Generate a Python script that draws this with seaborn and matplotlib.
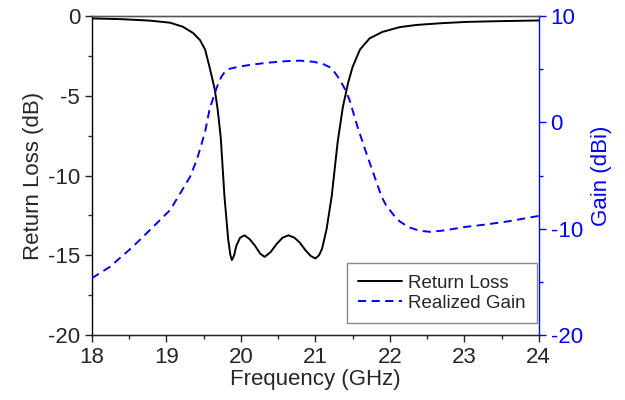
"""
plot.py
    Return loss and realized gain vs frequency (twin y axes)
Output:
  - out.png
"""

import pandas as pd
import matplotlib
matplotlib.use('Agg')
import matplotlib.pyplot as plt
from matplotlib.ticker import MultipleLocator
import seaborn as sns

# Data
rl_freq = [18.0, 18.4, 18.78, 19.05, 19.22, 19.36, 19.45, 19.52, 19.58, 19.65,
           19.69, 19.73, 19.78, 19.83, 19.86, 19.88, 19.91, 19.94, 19.99, 20.05,
           20.12, 20.19, 20.26, 20.32, 20.4, 20.48, 20.56, 20.64, 20.72, 20.79,
           20.87, 20.94, 21.0, 21.05, 21.09, 21.15, 21.22, 21.3, 21.37, 21.44,
           21.5, 21.6, 21.73, 21.9, 22.13, 22.36, 22.7, 23.03, 23.5, 24.0]
rl_db = [-0.15, -0.2, -0.29, -0.42, -0.67, -1.07, -1.5, -2.1, -3.2, -4.6,
         -5.9, -7.6, -11.3, -14.0, -15.0, -15.3, -15.0, -14.4, -13.9, -13.75,
         -14.0, -14.4, -14.9, -15.1, -14.8, -14.3, -13.9, -13.75, -13.9, -14.2,
         -14.7, -15.05, -15.2, -15.0, -14.6, -13.4, -11.3, -7.9, -5.7, -4.2,
         -3.2, -2.1, -1.4, -1.0, -0.7, -0.56, -0.45, -0.37, -0.32, -0.28]

gain_freq = [18.0, 18.24, 18.55, 18.87, 19.05, 19.21, 19.32, 19.41, 19.52, 19.58,
             19.65, 19.7, 19.74, 19.78, 19.83, 19.95, 20.12, 20.35, 20.6, 20.8,
             20.97, 21.1, 21.19, 21.26, 21.33, 21.4, 21.46, 21.57, 21.69, 21.89,
             21.95, 22.05, 22.13, 22.25, 22.4, 22.55, 22.75, 23.0, 23.3, 23.6,
             23.92, 24.0]
gain_dbi = [-14.65, -13.6, -11.7, -9.5, -8.25, -6.4, -5.1, -3.5, -0.9, 1.2,
            2.75, 3.7, 4.3, 4.7, 5.0, 5.2, 5.4, 5.6, 5.75, 5.8,
            5.7, 5.5, 5.2, 4.7, 4.0, 3.1, 2.1, -0.5, -3.0, -7.0,
            -7.8, -8.7, -9.3, -9.85, -10.2, -10.3, -10.15, -9.85, -9.6, -9.3,
            -8.9, -8.8]

BLUE = '#0000FF'

rl_df = pd.DataFrame({'freq': rl_freq, 'val': rl_db})
gain_df = pd.DataFrame({'freq': gain_freq, 'val': gain_dbi})

sns.set_style('ticks')
plt.rcParams['font.family'] = ['Liberation Sans', 'DejaVu Sans']
plt.rcParams['axes.unicode_minus'] = False

fig = plt.figure(figsize=(6.25, 4.0), dpi=100)
ax = fig.add_axes([0.147, 0.1625, 0.715, 0.7975])
ax2 = ax.twinx()

sns.lineplot(data=rl_df, x='freq', y='val', ax=ax, color='black', linewidth=1.4,
             label='Return Loss', legend=False)
sns.lineplot(data=gain_df, x='freq', y='val', ax=ax2, color=BLUE, linewidth=1.4,
             label='Realized Gain', legend=False)
ax2.lines[0].set_dashes((4.2, 2.8))

ax.set_xlim(18, 24)
ax.set_ylim(-20, 0)
ax2.set_ylim(-20, 10)

ax.xaxis.set_major_locator(MultipleLocator(1))
ax.xaxis.set_minor_locator(MultipleLocator(0.5))
ax.yaxis.set_major_locator(MultipleLocator(5))
ax.yaxis.set_minor_locator(MultipleLocator(2.5))
ax2.yaxis.set_major_locator(MultipleLocator(10))
ax2.yaxis.set_minor_locator(MultipleLocator(5))

ax.set_xlabel('Frequency (GHz)', fontsize=16, labelpad=1)
ax.set_ylabel('Return Loss (dB)', fontsize=16, labelpad=3)
ax2.set_ylabel('Gain (dBi)', fontsize=16, color=BLUE, labelpad=6)

ax.tick_params(which='major', direction='out', length=5, width=1, labelsize=16)
ax.tick_params(which='minor', direction='out', length=3, width=1)
ax2.tick_params(which='major', direction='out', length=5, width=1, labelsize=16,
                colors=BLUE)
ax2.tick_params(which='minor', direction='out', length=3, width=1, colors=BLUE)

for side in ['left', 'bottom', 'top']:
    ax.spines[side].set_color('black')
    ax.spines[side].set_linewidth(1)
ax.spines['right'].set_visible(False)
ax2.spines['right'].set_color(BLUE)
ax2.spines['right'].set_linewidth(1)
ax2.spines['left'].set_visible(False)
ax2.spines['top'].set_color('#555555')

handles = ax.get_lines()[:1] + ax2.get_lines()[:1]
leg = ax2.legend(handles, ['Return Loss', 'Realized Gain'], loc='lower right',
                 bbox_to_anchor=(0.996, 0.038), fontsize=13.5, frameon=True,
                 fancybox=False, framealpha=1, edgecolor='#888888',
                 handlelength=2.3, handletextpad=0.35, borderpad=0.6,
                 labelspacing=0.15, borderaxespad=0)
leg.get_frame().set_linewidth(1)

fig.savefig('out.png', dpi=100)
